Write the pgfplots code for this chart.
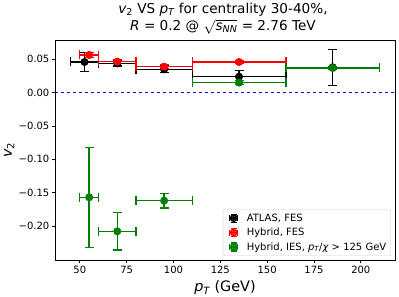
\documentclass[border=0pt]{standalone}
\usepackage{pgfplots}
\pgfplotsset{compat=1.18}
\usepackage{fontspec}
\setmainfont{DejaVu Sans}
\definecolor{mplgreen}{HTML}{008000}
\newcommand{\itx}[1]{{\itshape #1}}
\begin{document}
\begin{tikzpicture}[x=1pt,y=1pt]
\useasboundingbox (0,0) rectangle (399,297);
\node[anchor=base,font=\fontsize{13.6}{15}\selectfont,inner sep=0pt] at (223,283.7) {\itx{v}\textsubscript{2} VS \itx{p}\textsubscript{\itx{T}} for centrality 30-40\%,};
\node[anchor=base,font=\fontsize{13.6}{15}\selectfont,inner sep=0pt] at (223,266.3) {\itx{R} = 0.2 @ \smash{$\sqrt{\mbox{\itx{s}\textsubscript{\itx{NN}}}}$} = 2.76 TeV};
\node[anchor=base,font=\fontsize{14.4}{16}\selectfont,inner sep=0pt] at (225,5.3) {\itx{p}\textsubscript{\itx{T}} (GeV)};
\node[rotate=90,anchor=base,font=\fontsize{14.4}{16}\selectfont,inner sep=0pt] at (12,147) {\itx{v}\textsubscript{2}};
\begin{scope}[overlay]
\begin{axis}[
  at={(55pt,37pt)}, anchor=south west, scale only axis,
  width=340pt, height=220pt,
  xmin=36.75, xmax=218.25, ymin=-0.251, ymax=0.079,
  axis line style={line width=0.7pt},
  tick style={line width=0.7pt, black},
  major tick length=3pt,
  tick align=outside, xtick pos=bottom, ytick pos=left,
  xtick={50,75,100,125,150,175,200},
  xticklabels={50,75,100,125,150,175,200},
  ytick={-0.20,-0.15,-0.10,-0.05,0,0.05},
  yticklabels={−0.20,−0.15,−0.10,−0.05,0.00,0.05},
  ticklabel style={font=\fontsize{10}{11}\selectfont},
  yticklabel style={xshift=0.8pt},
  xticklabel style={yshift=0.5pt},
  legend style={at={(axis cs:216.1,-0.2445)}, anchor=south east, draw=black!20, rounded corners=2pt,
    font=\fontsize{10}{11}\selectfont, row sep=2.6pt, inner sep=2.5pt, fill=white, fill opacity=0.8, text opacity=1,
    nodes={inner ysep=1.4pt}},
  legend cell align=left,
  legend image code/.code={
    \draw[#1,line width=1.4pt,mark=none] (3.5pt,0pt)--(11.5pt,0pt) (7.5pt,-4pt)--(7.5pt,4pt);
    \draw[#1,line width=1.1pt,mark=none] (3.5pt,-3pt)--(3.5pt,3pt) (11.5pt,-3pt)--(11.5pt,3pt) (4.5pt,4pt)--(10.5pt,4pt) (4.5pt,-4pt)--(10.5pt,-4pt);
    \fill[#1,mark=none] (7.5pt,0pt) circle (3.3pt);
    \path (0pt,0pt) (18pt,0pt);
  },
  error bars/error bar style={line width=1.45pt},
  error bars/error mark options={line width=1.3pt, mark size=4.5pt, rotate=90},
]
\addplot[black, mark=*, mark size=3.4pt, only marks, line width=1.2pt,
  error bars/.cd, x dir=both, x explicit, y dir=both, y explicit]
  coordinates {
  (52.5,0.046) +- (7.5,0.0145)
  (70,0.044) +- (10,0.004)
  (95,0.035) +- (15,0.005)
  (135,0.024) +- (25,0.009)
  (185,0.038) +- (25,0.027)
  };
\addlegendentry{ATLAS, FES}
\addplot[red, mark=*, mark size=3.4pt, only marks, line width=1.2pt,
  error bars/.cd, x dir=both, x explicit, y dir=both, y explicit]
  coordinates {
  (55,0.0565) +- (5,0.004)
  (70,0.0465) +- (10,0.003)
  (95,0.039) +- (15,0.003)
  (135,0.046) +- (25,0.002)
  };
\addlegendentry{Hybrid, FES}
\addplot[mplgreen, mark=*, mark size=3.4pt, only marks, line width=1.2pt,
  error bars/.cd, x dir=both, x explicit, y dir=both, y explicit]
  coordinates {
  (55,-0.157) +- (5,0.075)
  (70,-0.208) +- (10,0.028)
  (95,-0.162) +- (15,0.011)
  (135,0.015) +- (25,0.003)
  (185,0.037) +- (25,0.002)
  };
\addlegendentry{Hybrid, IES, \itx{p}\textsubscript{\itx{T}}/\itx{χ} > 125 GeV}
\addplot[blue, dashed, line width=0.8pt, forget plot] coordinates {(36.75,0) (218.25,0)};
\end{axis}
\end{scope}
\end{tikzpicture}
\end{document}
